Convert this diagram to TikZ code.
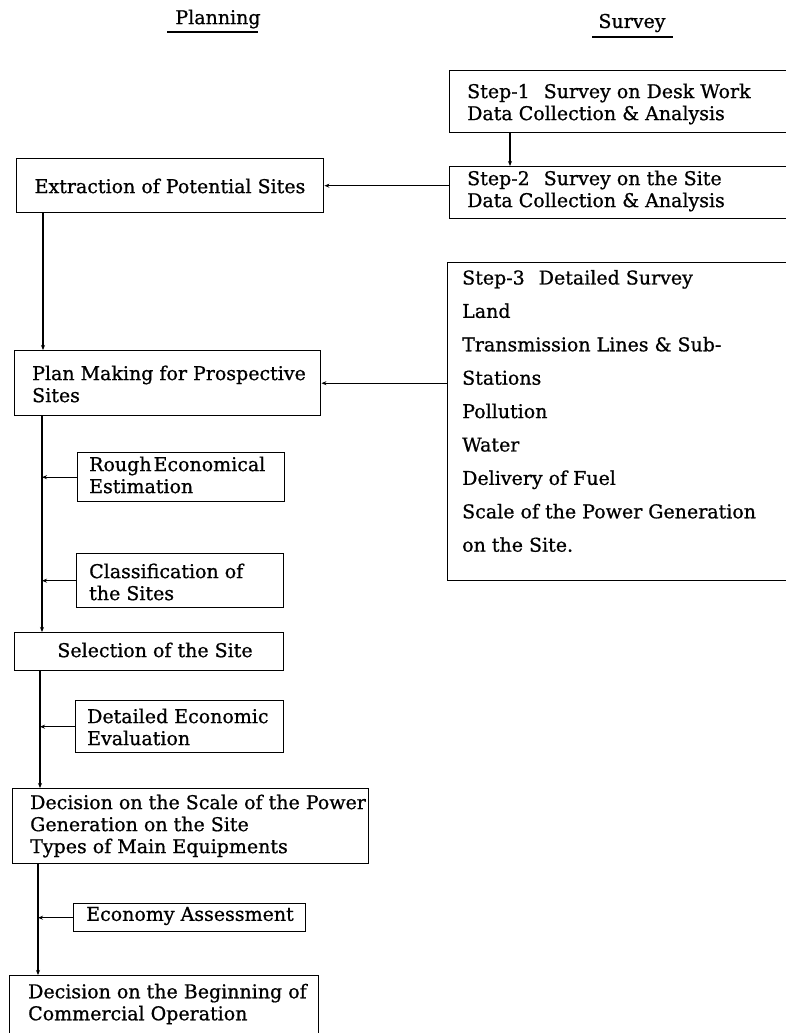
\documentclass[tikz,border=0pt]{standalone}
\usepackage{fontspec}
\setmainfont{DejaVu Serif}[FakeBold=0.8]
\usetikzlibrary{arrows.meta}
\begin{document}
\begin{tikzpicture}[x=1pt,y=-1pt,
  box/.style={draw, line width=1.4pt, rectangle, inner sep=0pt, anchor=north west},
  txt/.style={inner sep=0pt, align=left, anchor=west, font=\fontsize{19}{22}\selectfont},
  ctxt/.style={inner sep=0pt, align=center, font=\fontsize{19}{22}\selectfont},
  flow/.style={line width=1.4pt, -{Stealth[length=5pt,width=4pt]}},
  rule/.style={line width=1.5pt}]
\clip (0,0) rectangle (786,1033);
\fill[white] (0,0) rectangle (786,1033);

% column headings
\node[ctxt] (tplan) at (218,19) {Planning};
\draw[rule] (167,32) -- (258,32);
\node[ctxt] (tsurv) at (632,23) {Survey};
\draw[rule] (592,37) -- (673,37);

% survey column
\node[box, minimum width=345, minimum height=62] (s1) at (449,70) {};
\node[txt] (s1t) at (467,104) {Step-1\hspace{14pt}Survey on Desk Work\\Data Collection \& Analysis};
\node[box, minimum width=345, minimum height=52] (s2) at (449,166) {};
\node[txt] (s2t) at (467,191) {Step-2\hspace{14pt}Survey on the Site\\Data Collection \& Analysis};
\node[box, minimum width=347, minimum height=318] (s3) at (447,262) {};
\node[txt, font=\fontsize{19}{33.4}\selectfont] (s3t) at (462,411)
  {Step-3\hspace{14pt}Detailed Survey\\Land\\Transmission Lines \& Sub-\\Stations\\Pollution\\Water\\Delivery of Fuel\\Scale of the Power Generation\\on the Site.};

% planning column
\node[box, minimum width=307, minimum height=54] (ext) at (16,158) {};
\node[ctxt] (extt) at (170,186) {Extraction of Potential Sites};
\node[box, minimum width=306, minimum height=65] (plan) at (14,350) {};
\node[txt] (plant) at (32,384) {Plan Making for Prospective\\Sites};
\node[box, minimum width=207, minimum height=49] (rough) at (77,452) {};
\node[txt] (rought) at (89,475) {Rough\kern2pt Economical\\Estimation};
\node[box, minimum width=207, minimum height=54] (class) at (76,553) {};
\node[txt] (classt) at (89,582) {Classification of\\the Sites};
\node[box, minimum width=269, minimum height=38] (sel) at (14,632) {};
\node[ctxt] (selt) at (155,650) {Selection of the Site};
\node[box, minimum width=208, minimum height=52] (det) at (75,700) {};
\node[txt] (dett) at (87,727) {Detailed Economic\\Evaluation};
\node[box, minimum width=356, minimum height=75] (dec) at (12,788) {};
\node[txt] (dect) at (30,826) {Decision on the Scale of the Power\\Generation on the Site\\Types of Main Equipments};
\node[box, minimum width=232, minimum height=28] (eco) at (73,903) {};
\node[ctxt] (ecot) at (190,916) {Economy Assessment};
\node[box, minimum width=309, minimum height=80] (beg) at (9,975) {};
\node[txt] (begt) at (28,1004) {Decision on the Beginning of\\Commercial Operation};

% trunk positions
\coordinate (k0) at (510,0);
\coordinate (k1) at (43,0);
\coordinate (k2) at (42,0);
\coordinate (k3) at (40,0);
\coordinate (k4) at (38,0);

% connectors
\draw[flow] (s1.south -| k0) -- (s2.north -| k0);
\draw[flow] (s2.west |- ext.east) -- (ext.east);
\draw[flow] (ext.south -| k1) -- (plan.north -| k1);
\draw[flow] (s3.west |- plan.east) -- (plan.east);
\draw[flow] (plan.south -| k2) -- (sel.north -| k2);
\draw[flow] (rough.west) -- (rough.west -| k2);
\draw[flow] (class.west) -- (class.west -| k2);
\draw[flow] (sel.south -| k3) -- (dec.north -| k3);
\draw[flow] (det.west) -- (det.west -| k3);
\draw[flow] (dec.south -| k4) -- (beg.north -| k4);
\draw[flow] (eco.west) -- (eco.west -| k4);
\end{tikzpicture}
\end{document}
